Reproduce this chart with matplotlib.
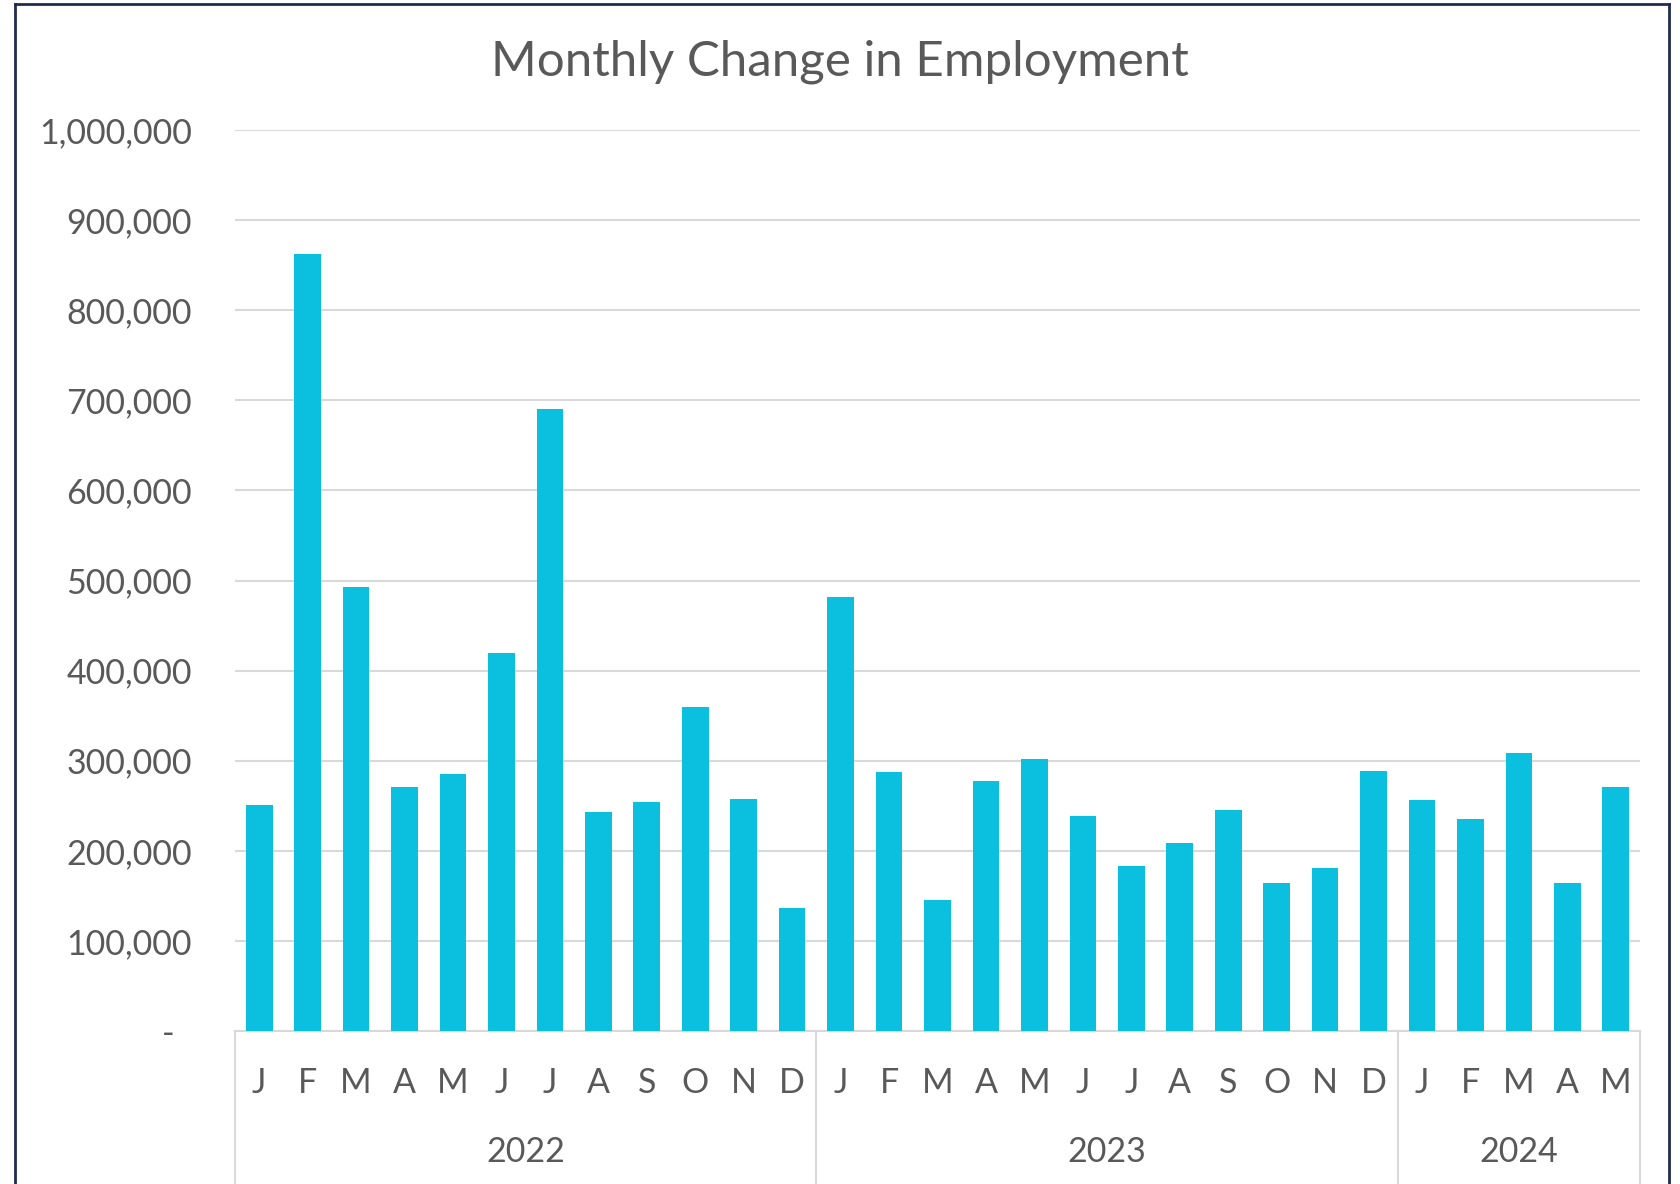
import matplotlib
matplotlib.use('Agg')
import matplotlib.pyplot as plt
from matplotlib.lines import Line2D
from matplotlib.ticker import FuncFormatter
import matplotlib.transforms as mtransforms

plt.rcParams['font.family'] = ['Lato', 'DejaVu Sans']

# monthly change in employment, Jan 2022 - May 2024
months = ['J', 'F', 'M', 'A', 'M', 'J', 'J', 'A', 'S', 'O', 'N', 'D',
          'J', 'F', 'M', 'A', 'M', 'J', 'J', 'A', 'S', 'O', 'N', 'D',
          'J', 'F', 'M', 'A', 'M']
values = [251000, 862000, 493000, 271000, 285000, 420000, 690000, 243000,
          254000, 360000, 257000, 136000,
          482000, 287000, 145000, 277000, 302000, 239000, 183000, 209000,
          245000, 164000, 181000, 289000,
          256000, 235000, 309000, 164000, 271000]
years = ['2022', '2023', '2024']
year_counts = [12, 12, 5]

BAR = '#0BBFDF'
TEXT = '#595959'
GRID = '#D9D9D9'

fig = plt.figure(figsize=(16.81, 11.84), dpi=100)
ax = fig.add_axes([0.1398, 0.1292, 0.8358, 0.7610])

x = list(range(len(values)))
ax.bar(x, values, width=0.55, color=BAR, zorder=3)

ax.set_xlim(-0.5, len(values) - 0.5)
ax.set_ylim(0, 1000000)
ax.set_yticks(range(0, 1000001, 100000))
# Excel accounting style: zero shown as a dash
ax.yaxis.set_major_formatter(FuncFormatter(lambda v, p: '-  ' if v == 0 else f'{int(v):,}'))
ax.grid(axis='y', color=GRID, linewidth=1.5, zorder=0)
for s in ['top', 'right', 'left']:
    ax.spines[s].set_visible(False)
ax.spines['bottom'].set_color(GRID)
ax.spines['bottom'].set_linewidth(1.5)

ax.set_xticks(x)
ax.set_xticklabels(months)
ax.tick_params(axis='x', length=0, pad=26, labelsize=24.5, labelcolor=TEXT)
ax.tick_params(axis='y', length=0, pad=31, labelsize=24.5, labelcolor=TEXT)

# year group labels and dividers
trans = mtransforms.blended_transform_factory(ax.transData, ax.transAxes)
start = 0
bounds = [-0.5]
for yr, n in zip(years, year_counts):
    centre = start + (n - 1) / 2
    ax.text(centre, -0.134, yr, transform=trans, ha='center', va='center',
            fontsize=24.5, color=TEXT)
    start += n
    bounds.append(start - 0.5)
for b in bounds:
    ax.plot([b, b], [0, -0.2], transform=trans, color=GRID, linewidth=1.5,
            clip_on=False)

fig.text(0.4997, 0.948, 'Monthly Change in Employment', ha='center', va='center',
         fontsize=35.5, color=TEXT)

# outer frame
edge = '#222B4F'
fig.add_artist(Line2D([0.0089, 0.0089], [0, 0.9966], color=edge, linewidth=2))
fig.add_artist(Line2D([0.0089, 0.9929], [0.9966, 0.9966], color=edge, linewidth=2))
fig.add_artist(Line2D([0.9929, 0.9929], [0, 0.9966], color=edge, linewidth=2))

fig.savefig('out.png', dpi=100)
